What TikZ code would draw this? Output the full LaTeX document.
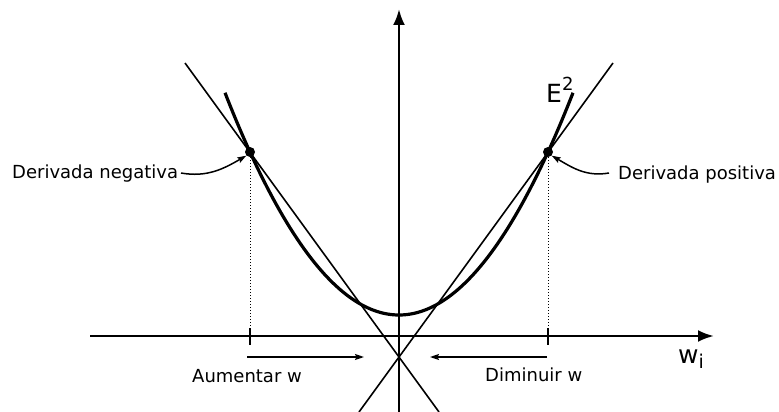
\documentclass[tikz,border=0pt]{standalone}
\usepackage{fontspec}
\setmainfont{DejaVu Sans}
\usetikzlibrary{arrows.meta}
\tikzset{
  axisline/.style={line width=2.6pt,-{Latex[length=16pt,width=12pt]}},
  tangline/.style={line width=1.6pt},
  curveline/.style={line width=3.2pt},
  tickline/.style={line width=2.6pt},
  guide/.style={line width=1pt,dotted},
  smallarrow/.style={line width=1.5pt,-{Stealth[length=9pt,width=6pt,inset=1.5pt]}},
  ptdot/.style={circle,fill=black,inner sep=0pt,minimum size=10pt},
  lbl/.style={inner sep=0pt,font=\fontsize{18}{21}\selectfont},
  biglbl/.style={inner sep=0pt,font=\fontsize{25}{28}\selectfont}
}
\begin{document}
\begin{tikzpicture}[x=1pt,y=-1pt]
\useasboundingbox (0,0) rectangle (779,412);
% axes
\coordinate (vb) at (399,412);
\coordinate (vt) at (399,9);
\coordinate (hl) at (90,336);
\coordinate (hr) at (714,336);
\draw[axisline] (vb) -- (vt);
\draw[axisline] (hl) -- (hr);
% tangent lines
\coordinate (lt) at (185,63);
\coordinate (lb) at (439,412);
\coordinate (rt) at (613,63);
\coordinate (rb) at (359,412);
\draw[tangline] (lt) -- (lb);
\draw[tangline] (rt) -- (rb);
% parabola
\draw[curveline,domain=-17.4:17.4,samples=120] plot ({399+10*\x},{315-0.734*\x*\x});
% points
\node[ptdot] (dl) at (250,152) {};
\node[ptdot] (dr) at (548,152) {};
% ticks
\coordinate (tl1) at (250,328);
\coordinate (tl2) at (250,345);
\coordinate (tr1) at (548,328);
\coordinate (tr2) at (548,345);
\draw[tickline] (tl1) -- (tl2);
\draw[tickline] (tr1) -- (tr2);
\draw[guide] (dl) -- (tl1);
\draw[guide] (dr) -- (tr1);
% labels
\node[lbl,anchor=base west] (neg) at (12,178) {Derivada negativa};
\node[lbl,anchor=base west] (pos) at (618,179) {Derivada positiva};
\node[lbl,anchor=base west] (aum) at (192,382) {Aumentar w};
\node[lbl,anchor=base west] (dim) at (485,381) {Diminuir w};
\node[biglbl,anchor=base west] (E) at (546,102) {E\raisebox{11pt}{\fontsize{18}{18}\selectfont 2}};
\node[biglbl,anchor=base west] (w) at (678,363) {w\raisebox{-5pt}{\fontsize{19}{19}\selectfont i}};
% curved arrows
\coordinate (nl) at (181,173);
\coordinate (nr) at (609,173);
\draw[smallarrow] (nl) to[out=-10,in=210] (dl.south west);
\draw[smallarrow] (nr) to[out=190,in=-30] (dr.south east);
% direction arrows
\coordinate (a1) at (247,357);
\coordinate (a2) at (364,357);
\coordinate (d1) at (547,357);
\coordinate (d2) at (430,357);
\draw[smallarrow] (a1) -- (a2);
\draw[smallarrow] (d1) -- (d2);
\end{tikzpicture}
\end{document}
